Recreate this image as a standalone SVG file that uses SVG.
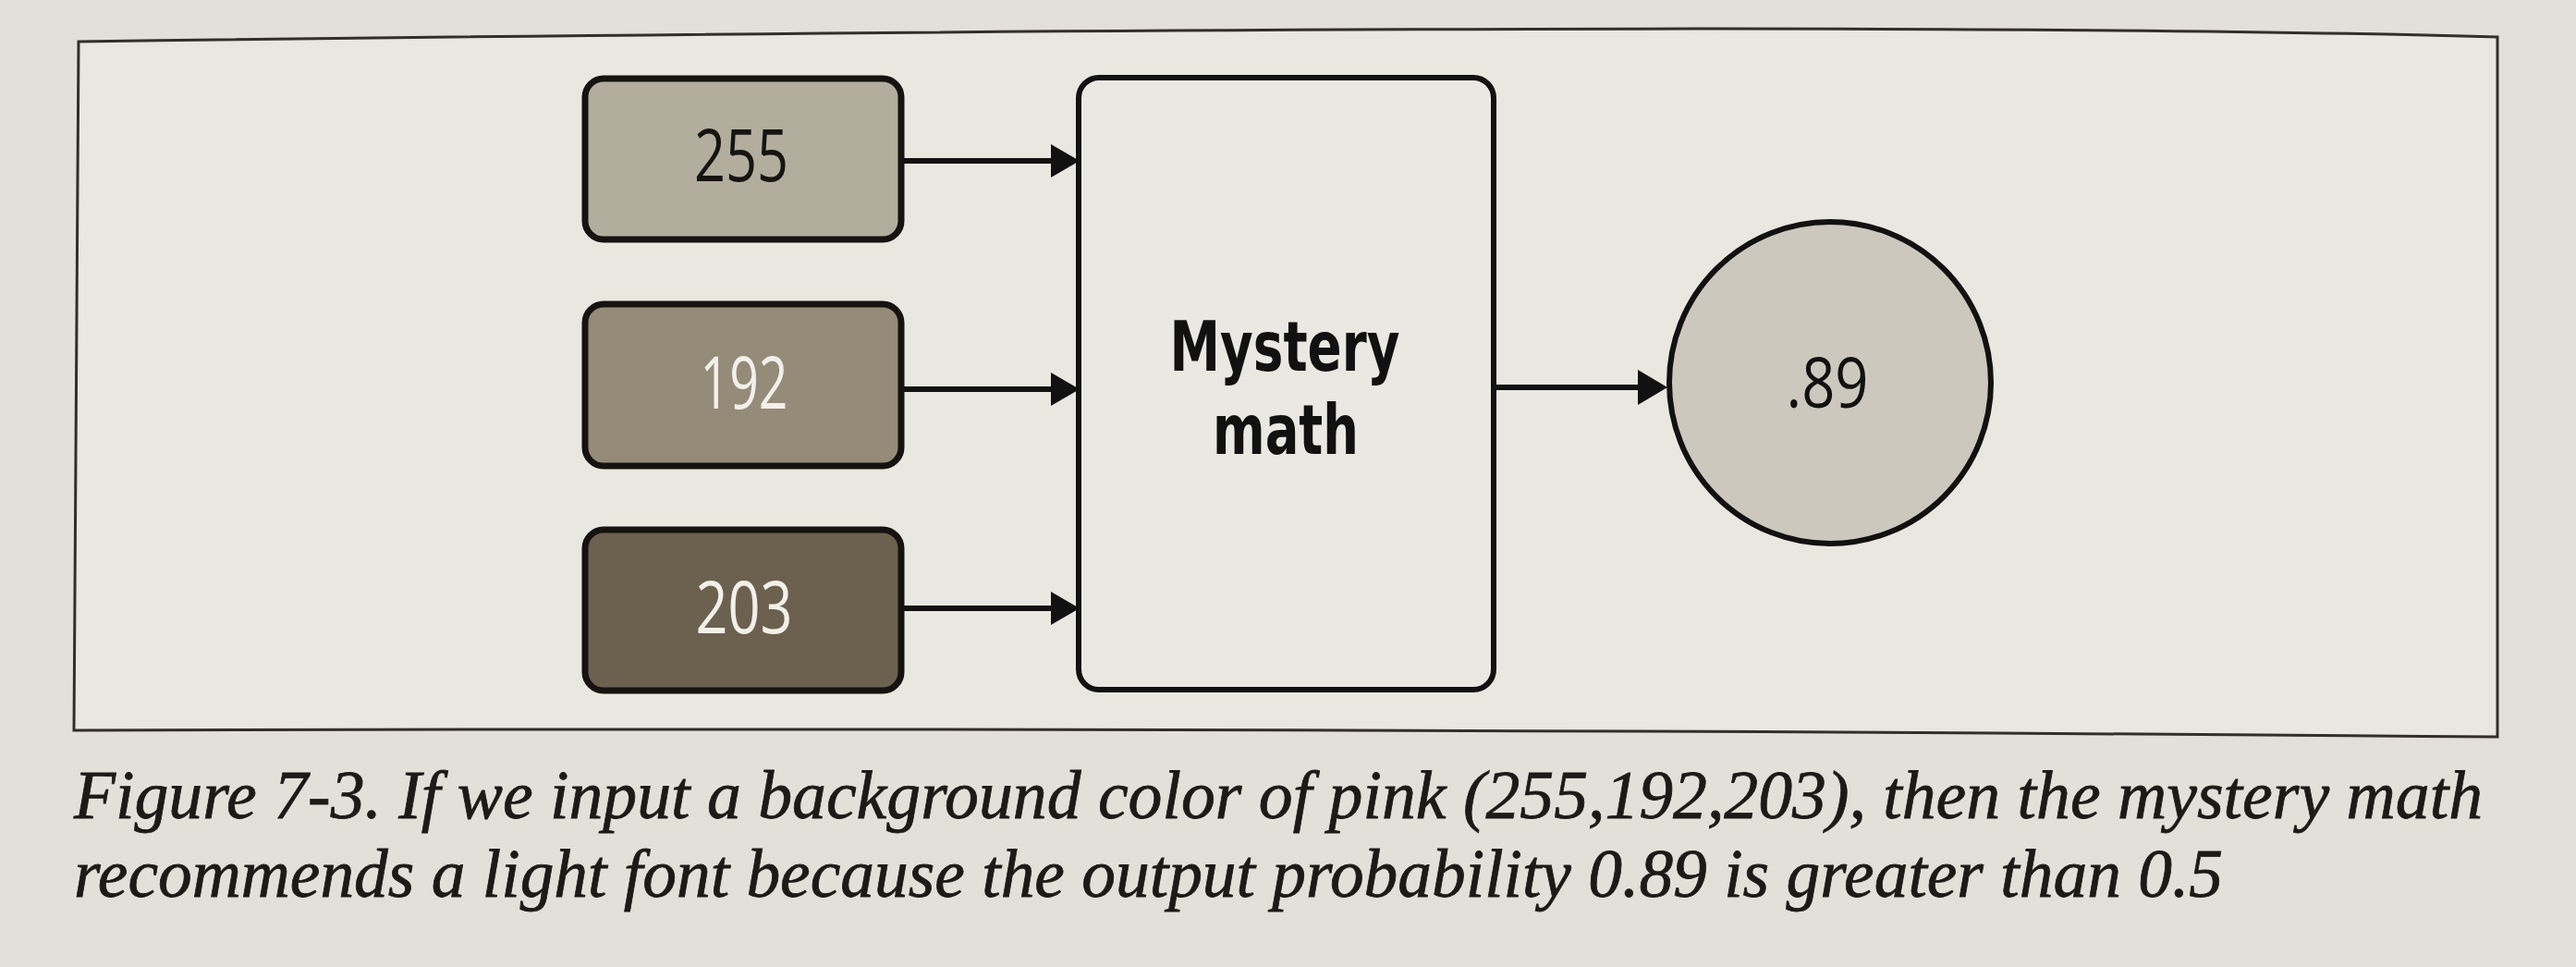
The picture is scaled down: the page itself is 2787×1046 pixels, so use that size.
<svg xmlns="http://www.w3.org/2000/svg" width="2787" height="1046" viewBox="0 0 2787 1046">
  <defs>
    <style>
      .inbox { stroke: #15120f; stroke-width: 7; }
      .num { font-family: "Open Sans", "Noto Sans", "DejaVu Sans", sans-serif; font-size: 78px; text-anchor: middle; }
      .bold { font-family: "DejaVu Sans", "Open Sans", sans-serif; font-weight: bold; font-size: 75px; text-anchor: middle; fill: #111; }
      .cap { font-family: "Liberation Serif", "Times New Roman", serif; font-style: italic; font-size: 74px; fill: #1c1a17; stroke: #1c1a17; stroke-width: 0.8; }
      .conn { stroke: #111; stroke-width: 6; fill: none; }
      .head { fill: #111; }
    </style>
  </defs>
  <rect x="0" y="0" width="2787" height="1046" fill="#e2e0d8"/>
  <g id="frame">
    <path d="M85,45 Q2000,20 2702,40 L2702,797 Q1400,786 80,790 Z" fill="#e8e7e0" stroke="#332e28" stroke-width="3"/>
  </g>
  <g id="connectors">
    <line class="conn" x1="975" y1="174" x2="1140" y2="174"/>
    <polygon class="head" points="1137,156 1168,174 1137,192"/>
    <line class="conn" x1="975" y1="421" x2="1140" y2="421"/>
    <polygon class="head" points="1137,403 1168,421 1137,439"/>
    <line class="conn" x1="975" y1="658" x2="1140" y2="658"/>
    <polygon class="head" points="1137,640 1168,658 1137,676"/>
    <line class="conn" x1="1616" y1="419" x2="1776" y2="419"/>
    <polygon class="head" points="1772,400 1804,419 1772,438"/>
  </g>
  <g id="node-255">
    <rect class="inbox" x="633" y="85" width="342" height="174" rx="20" fill="#b3ad9e"/>
    <text class="num" x="802" y="196" fill="#161410" textLength="102" lengthAdjust="spacingAndGlyphs">255</text>
  </g>
  <g id="node-192">
    <rect class="inbox" x="633" y="329" width="342" height="175" rx="20" fill="#958b79"/>
    <text class="num" x="805" y="442" fill="#f2f0ea" textLength="95" lengthAdjust="spacingAndGlyphs">192</text>
  </g>
  <g id="node-203">
    <rect class="inbox" x="633" y="573" width="342" height="174" rx="20" fill="#6c604f"/>
    <text class="num" x="805" y="685" fill="#f2f0ea" textLength="105" lengthAdjust="spacingAndGlyphs">203</text>
  </g>
  <g id="node-mystery">
    <rect x="1167" y="84" width="449" height="662" rx="22" fill="#e9e8e2" stroke="#111" stroke-width="6"/>
    <text class="bold" x="1390" y="401" textLength="249" lengthAdjust="spacingAndGlyphs">Mystery</text>
    <text class="bold" x="1391" y="491" textLength="158" lengthAdjust="spacingAndGlyphs">math</text>
  </g>
  <g id="node-output">
    <circle cx="1980" cy="414" r="174" fill="#ccc8bd" stroke="#111" stroke-width="6"/>
    <text class="num" x="1977" y="441" fill="#111" style="font-size:75px" textLength="89" lengthAdjust="spacingAndGlyphs">.89</text>
  </g>
  <g id="caption">
    <text class="cap" x="80" y="885" textLength="2606" lengthAdjust="spacingAndGlyphs">Figure 7-3. If we input a background color of pink (255,192,203), then the mystery math</text>
    <text class="cap" x="80" y="970" textLength="2325" lengthAdjust="spacingAndGlyphs">recommends a light font because the output probability 0.89 is greater than 0.5</text>
  </g>
</svg>
